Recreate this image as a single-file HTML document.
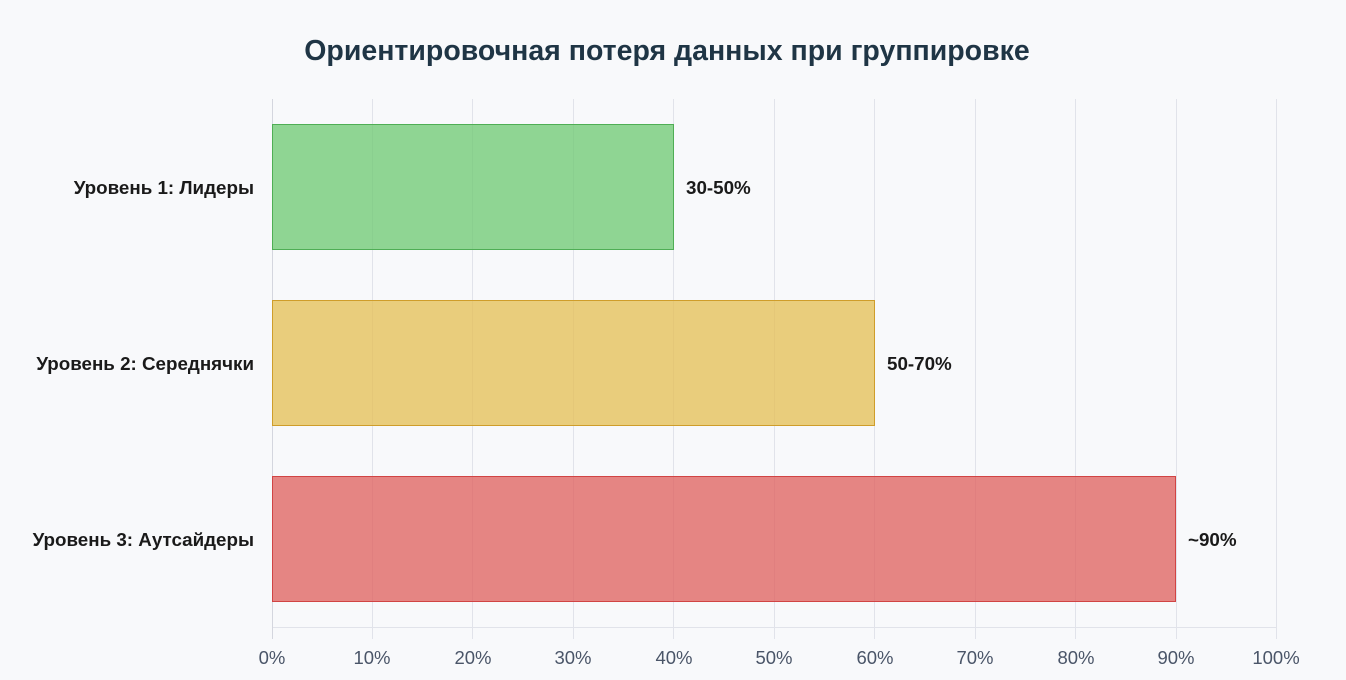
<!DOCTYPE html>
<html><head><meta charset="utf-8"><style>
html,body{margin:0;padding:0;background:#f8f9fb;}
svg{display:block}
text{font-family:"Liberation Sans",sans-serif}
</style></head><body>
<svg width="1346" height="680" viewBox="0 0 1346 680">
<rect width="1346" height="680" fill="#f8f9fb"/>
<text x="667" y="60" text-anchor="middle" font-size="28.5" font-weight="bold" fill="#1f3545">Ориентировочная потеря данных при группировке</text>
<g stroke="#e1e3ea" stroke-width="1">
<line x1="372.5" y1="99" x2="372.5" y2="639"/>
<line x1="472.5" y1="99" x2="472.5" y2="639"/>
<line x1="573.5" y1="99" x2="573.5" y2="639"/>
<line x1="673.5" y1="99" x2="673.5" y2="639"/>
<line x1="774.5" y1="99" x2="774.5" y2="639"/>
<line x1="874.5" y1="99" x2="874.5" y2="639"/>
<line x1="975.5" y1="99" x2="975.5" y2="639"/>
<line x1="1075.5" y1="99" x2="1075.5" y2="639"/>
<line x1="1176.5" y1="99" x2="1176.5" y2="639"/>
<line x1="1276.5" y1="99" x2="1276.5" y2="639"/>
<line x1="272" y1="627.5" x2="1276" y2="627.5"/>
</g>
<line x1="272.5" y1="99" x2="272.5" y2="639" stroke="#d4d6de"/>
<rect x="272.5" y="124.5" width="401" height="125" fill="#6cc870" fill-opacity="0.75" stroke="#4fae55"/>
<rect x="272.5" y="300.5" width="602" height="125" fill="#e4bd52" fill-opacity="0.75" stroke="#cf9d2a"/>
<rect x="272.5" y="476.5" width="903" height="125" fill="#df5d5b" fill-opacity="0.75" stroke="#d14444"/>
<g font-size="18.8" font-weight="bold" fill="#1a1a1a">
<text x="254" y="194" text-anchor="end">Уровень 1: Лидеры</text>
<text x="254" y="370" text-anchor="end">Уровень 2: Середнячки</text>
<text x="254" y="546" text-anchor="end">Уровень 3: Аутсайдеры</text>
<text x="686" y="194">30-50%</text>
<text x="887" y="370">50-70%</text>
<text x="1188" y="546">~90%</text>
</g>
<g font-size="18.5" fill="#4a5568" text-anchor="middle">
<text x="272" y="664">0%</text><text x="372" y="664">10%</text><text x="473" y="664">20%</text>
<text x="573" y="664">30%</text><text x="674" y="664">40%</text><text x="774" y="664">50%</text>
<text x="875" y="664">60%</text><text x="975" y="664">70%</text><text x="1076" y="664">80%</text>
<text x="1176" y="664">90%</text><text x="1276" y="664">100%</text>
</g>
</svg>
</body></html>
